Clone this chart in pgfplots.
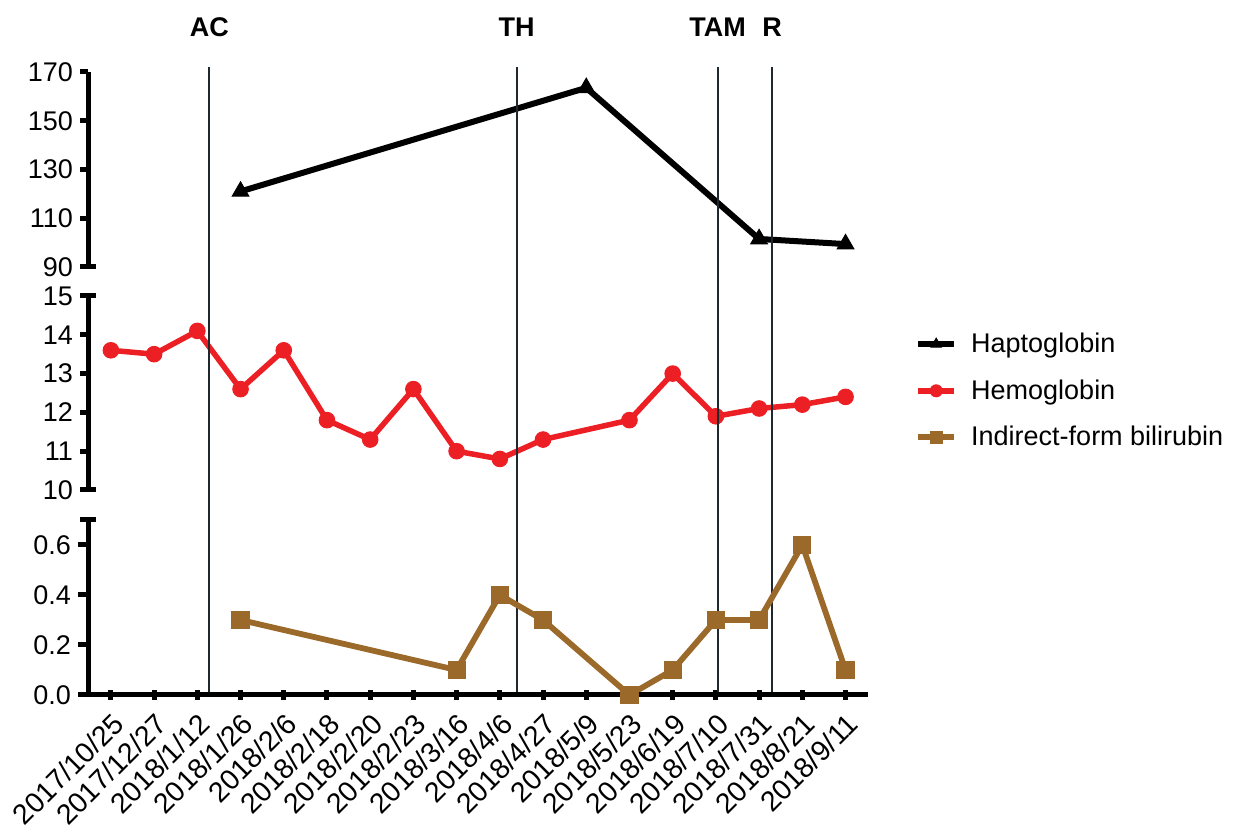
\documentclass[border=0pt]{standalone}
\usepackage{fontspec}
\setmainfont{Liberation Sans}
\usepackage{pgfplots}
\pgfplotsset{compat=1.18}
\definecolor{myred}{RGB}{236,32,36}
\definecolor{mybrown}{RGB}{155,106,42}
\definecolor{vline}{RGB}{30,40,45}
\pgfplotsset{
  common/.style={
    scale only axis, width=390pt, xmin=-0.53, xmax=17.52, clip=false,
    axis y line=left,
    major tick length=4pt, tick align=outside,
    /pgf/number format/assume math mode=true,
    yticklabel style={font=\fontsize{13.5}{16}\selectfont},
    extra y tick style={tick align=center, major tick length=8pt},
  },
  thickaxis/.style={
    axis line style={line width=2.5pt, -},
    x axis line style={line width=2.5pt, -},
    y axis line style={line width=2.5pt, -},
    tick style={line width=2.5pt, black},
    major tick style={line width=2.5pt, black},
  },
  hapto/.style={black, line width=3pt, mark=triangle*, mark size=4.8pt, mark options={line width=0.5pt, solid}},
  hemo/.style={myred, line width=2.75pt, mark=*, mark size=3.9pt, mark options={line width=0.5pt, solid}},
  bili/.style={mybrown, line width=2.9pt, mark=square*, mark size=4.3pt, mark options={line width=0.5pt, solid}},
}
\begin{document}
\begin{tikzpicture}[line width=2.5pt]
\useasboundingbox (0,0) rectangle (620.5pt,414pt);
% top: haptoglobin
\begin{axis}[common, at={(44pt,280.5pt)}, anchor=south west, height=97.5pt,
  axis x line=none, thickaxis, ymin=90, ymax=170, ytick={110,130,150,170}, extra y ticks={90},
  legend style={at={(1.06,-0.635)}, anchor=west, draw=none, fill=none, inner sep=0pt,
    font=\fontsize{13.5}{16}\selectfont, row sep=8pt},
  legend cell align=left,
  legend image code/.code={\draw[mark repeat=2,mark phase=2,mark size=3pt] plot coordinates {(0pt,0pt) (9pt,0pt) (18pt,0pt)}; \path (23pt,0pt);},
]
\addplot[hapto] coordinates {(3,121) (11,163.5) (15,101.5) (17,99.4)};
\addlegendentry{Haptoglobin}
\addlegendimage{hemo}
\addlegendentry{Hemoglobin}
\addlegendimage{bili}
\addlegendentry{Indirect-form bilirubin}
\draw[line width=2.5pt, black] (axis cs:-0.53,90) -- (axis cs:-0.53,170);
\end{axis}
% middle: hemoglobin
\begin{axis}[common, at={(44pt,169pt)}, anchor=south west, height=97pt,
  axis x line=none, thickaxis, ymin=10, ymax=15, ytick={11,12,13,14}, extra y ticks={10,15},
]
\addplot[hemo] coordinates {(0,13.6) (1,13.5) (2,14.1) (3,12.6) (4,13.6) (5,11.8) (6,11.3) (7,12.6) (8,11.0) (9,10.8) (10,11.3) (12,11.8) (13,13.0) (14,11.9) (15,12.1) (16,12.2) (17,12.4)};
\draw[line width=2.5pt, black] (axis cs:-0.53,10) -- (axis cs:-0.53,15);
\end{axis}
% bottom: bilirubin
\begin{axis}[common, at={(44pt,66.5pt)}, anchor=south west, height=87.5pt,
  axis x line=bottom, thickaxis, ymin=0, ymax=0.7, ytick={0,0.2,0.4,0.6}, extra y ticks={0.7}, extra y tick labels={},
  yticklabel style={/pgf/number format/.cd, fixed, fixed zerofill, precision=1},
  xtick={0,...,17}, major tick length=5pt,
  xticklabels={2017/10/25,2017/12/27,2018/1/12,2018/1/26,2018/2/6,2018/2/18,2018/2/20,2018/2/23,2018/3/16,2018/4/6,2018/4/27,2018/5/9,2018/5/23,2018/6/19,2018/7/10,2018/7/31,2018/8/21,2018/9/11},
  xticklabel shift=4pt,
  xticklabel style={rotate=45, anchor=north east, font=\fontsize{14.2}{17}\selectfont, inner sep=1pt},
]
\draw[line width=1pt, vline] (axis cs:2.28,0) -- (axis cs:2.28,2.512);
\draw[line width=1pt, vline] (axis cs:9.39,0) -- (axis cs:9.39,2.512);
\draw[line width=1pt, vline] (axis cs:14.04,0) -- (axis cs:14.04,2.512);
\draw[line width=1pt, vline] (axis cs:15.3,0) -- (axis cs:15.3,2.512);
\addplot[bili] coordinates {(3,0.3) (8,0.1) (9,0.4) (10,0.3) (12,0.0) (13,0.1) (14,0.3) (15,0.3) (16,0.6) (17,0.1)};
\draw[line width=2.5pt, black] (axis cs:-0.53,0.7) -- (axis cs:-0.53,0) -- (axis cs:17.52,0);
\node[font=\bfseries\fontsize{13.5}{16}\selectfont] at (axis cs:2.28,2.672) {AC};
\node[font=\bfseries\fontsize{13.5}{16}\selectfont] at (axis cs:9.39,2.672) {TH};
\node[font=\bfseries\fontsize{13.5}{16}\selectfont] at (axis cs:14.04,2.672) {TAM};
\node[font=\bfseries\fontsize{13.5}{16}\selectfont] at (axis cs:15.3,2.672) {R};
\end{axis}
\end{tikzpicture}
\end{document}
